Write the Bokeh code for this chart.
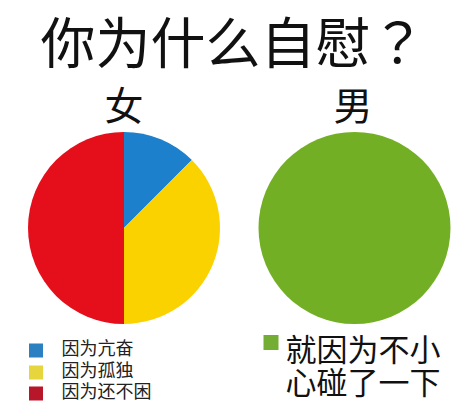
import numpy as np
from bokeh.plotting import figure
from bokeh.models import Range1d, ColumnDataSource
from bokeh.core.properties import value
from bokeh.embed import file_html
from bokeh.resources import INLINE

title = "你为什么自慰？"
groups = ["女", "男"]
female_labels = ["因为亢奋", "因为孤独", "因为还不困"]
female_values = [12.5, 37.5, 50.0]
female_colors = ["#1C80CC", "#FAD200", "#E50F1B"]
female_legend_colors = ["#2A80C0", "#E6D53C", "#B8172B"]
male_label_lines = ["就因为不小", "心碰了一下"]
male_values = [100.0]
male_colors = ["#73AF24"]
male_legend_colors = ["#74AD34"]

FONT = "Noto Sans CJK SC"
TFONT = "Noto Sans CJK TC"
W, H = 456, 403

p = figure(width=W, height=H, output_backend="svg", toolbar_location=None,
           x_range=Range1d(0, W), y_range=Range1d(0, H),
           x_axis_location=None, y_axis_location=None, min_border=0)
p.grid.visible = False
p.outline_line_color = None
p.background_fill_color = "white"
p.border_fill_color = "white"


def ix(x):
    return x


def iy(y):
    return H - y


def pie(values, colors, cx, cy, r):
    v = np.array(values, dtype=float)
    frac = v / v.sum()
    ends = np.cumsum(frac) * 2 * np.pi
    starts = np.concatenate([[0.0], ends[:-1]])
    src = ColumnDataSource(dict(
        start=np.pi / 2 - starts,
        end=np.pi / 2 - ends,
        color=colors,
    ))
    if len(values) == 1:
        p.circle(x=[cx], y=[cy], radius=r, fill_color=colors[0], line_color=None)
    else:
        p.wedge(x=cx, y=cy, radius=r, start_angle="start", end_angle="end",
                direction="clock", fill_color="color", line_color=None, source=src)


R = 96
pie(female_values, female_colors, ix(123.5), iy(227.5), R)
pie(male_values, male_colors, ix(354), iy(227.5), R)

# title
p.text(x=[ix(40)], y=[iy(38)], text=[title], text_font=value(TFONT),
       text_font_size="55px", text_align="left", text_baseline="middle",
       text_color="#111111")
# group labels
p.text(x=[ix(123.5), ix(352.5)], y=[iy(102), iy(102)], text=groups,
       text_font=value(FONT), text_font_size="39px", text_align="center",
       text_baseline="middle", text_color="#111111")

# left legend
ly = [350, 372, 393]
p.rect(x=[ix(35.5)] * 3, y=[iy(v) for v in ly], width=14, height=14,
       fill_color=female_legend_colors, line_color=None)
p.text(x=[ix(61)] * 3, y=[iy(v - 4) for v in ly], text=female_labels,
       text_font=value(FONT), text_font_size="18px", text_align="left",
       text_baseline="middle", text_color="#222222")

# right legend
p.rect(x=[ix(270.5)], y=[iy(342)], width=15, height=15,
       fill_color=male_legend_colors, line_color=None)
p.text(x=[ix(285)] * 2, y=[iy(346.5), iy(379.5)], text=male_label_lines,
       text_font=value(FONT), text_font_size="31px", text_align="left",
       text_baseline="middle", text_color="#111111")

open("out.html", "w").write(file_html(p, INLINE))
